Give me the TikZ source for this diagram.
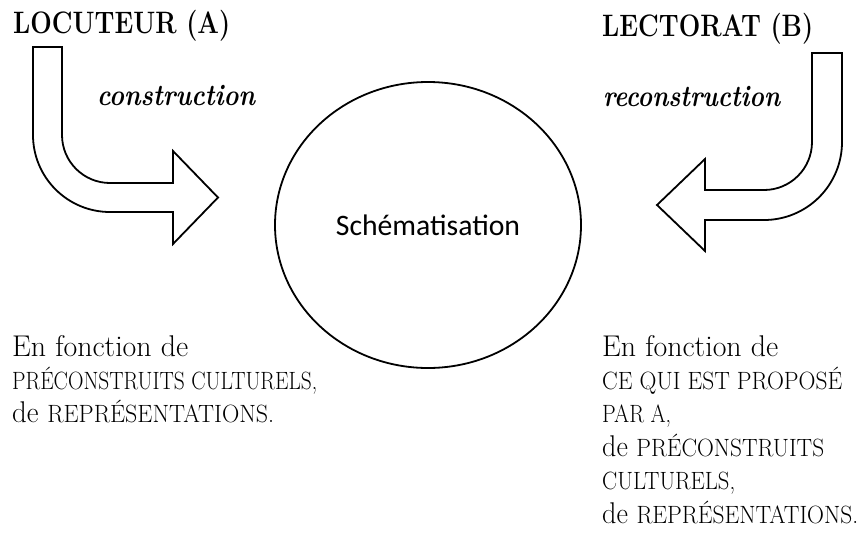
\documentclass[tikz,border=0pt]{standalone}
\usepackage{fontspec}
\usepackage{graphicx}
\newfontfamily\calib{Carlito}
\usetikzlibrary{shapes.geometric}
\newcommand\smc[1]{{\fontsize{25}{25}\selectfont #1}}
\newcommand\fitw[2]{\resizebox{#1pt}{\height}{#2}}
\begin{document}
\begin{tikzpicture}[x=1pt,y=-1pt,
  title/.style={font=\bfseries\fontsize{31}{31}\selectfont, anchor=base west, inner sep=0pt},
  verb/.style={font=\bfseries\itshape\fontsize{30}{30}\selectfont, anchor=base west, inner sep=0pt},
  body/.style={font=\fontsize{30}{30}\selectfont, anchor=base west, inner sep=0pt},
  bigarrow/.style={draw=black, line width=1.8pt, fill=white, line join=miter},
  ring/.style={draw=black, line width=1.8pt, ellipse, minimum width=306pt, minimum height=286pt, inner sep=0pt}]
\useasboundingbox (0,0) rectangle (862,541);
\fill[white] (0,0) rectangle (862,541);

% central ellipse
\node[ring] (schem) at (428,225) {\calib\fontsize{29.7}{30}\selectfont Schématisation};

% left bent arrow
\draw[bigarrow] (33,47) -- (62,47) -- (62,135)
  .. controls (62,161.5) and (83.5,183) .. (110,183)
  -- (173,183) -- (173,151) -- (218,197.5) -- (173,244) -- (173,212) -- (110,212)
  .. controls (67.5,212) and (33,177.5) .. (33,135) -- cycle;

% right bent arrow
\draw[bigarrow] (812,53) -- (842,53) -- (842,142)
  .. controls (842,185.1) and (807.1,220) .. (764,220)
  -- (705,220) -- (705,251) -- (657,205) -- (705,159) -- (705,190) -- (764,190)
  .. controls (790.5,190) and (812,168.5) .. (812,142) -- cycle;

% titles
\node[title] (ta) at (13,33) {\fitw{217}{LOCUTEUR (A)}};
\node[title] (tb) at (602,36) {\fitw{211}{LECTORAT (B)}};
\node[verb] (va) at (97,105) {\fitw{158}{construction}};
\node[verb] (vb) at (603,106) {\fitw{177}{reconstruction}};

% left text
\node[body] (a1) at (12,356) {\fitw{176}{En fonction de}};
\node[body] (a2) at (12,389) {\fitw{305}{\smc{PRÉCONSTRUITS CULTURELS,}}};
\node[body] (a3) at (12,422) {\fitw{262}{de \smc{REPRÉSENTATIONS.}}};

% right text
\node[body] (b1) at (602,356) {\fitw{176}{En fonction de}};
\node[body] (b2) at (602,389) {\fitw{240}{\smc{CE QUI EST PROPOSÉ}}};
\node[body] (b3) at (602,422) {\fitw{69}{\smc{PAR A,}}};
\node[body] (b4) at (602,456) {\fitw{222}{de \smc{PRÉCONSTRUITS}}};
\node[body] (b5) at (602,489) {\fitw{133}{\smc{CULTURELS,}}};
\node[body] (b6) at (602,523) {\fitw{256}{de \smc{REPRÉSENTATIONS.}}};
\end{tikzpicture}
\end{document}
